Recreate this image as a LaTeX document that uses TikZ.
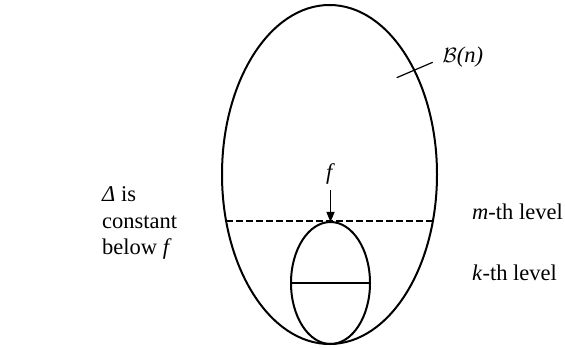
\documentclass[tikz,border=0pt]{standalone}
\usepackage{fontspec}
\setmainfont{Liberation Serif}
\usetikzlibrary{arrows.meta,positioning,shapes.geometric}

\begin{document}
\begin{tikzpicture}[x=1pt, y=1pt,
  region/.style={ellipse, draw=black, line width=2pt, inner sep=0pt, outer sep=0pt},
  lab/.style={inner sep=2pt, font=\fontsize{22.5}{26.5}\selectfont},
  level/.style={draw, line width=2pt, dash pattern=on 6.5pt off 3.5pt},
  line/.style={draw, line width=1.2pt, -{Triangle[length=10pt, width=8pt]}}]
  \useasboundingbox (0,0) rectangle (565,348);

  % Ball B(n) and the part below f
  \node [region, minimum width=215pt, minimum height=339pt] (ball) at (329.5,173.5) {};
  \node [region, minimum width=79pt, minimum height=122pt] (sub) at (330.5,65) {};

  % Levels
  \path [level] (ball.204.71) -- (ball.-24.71);
  \draw [line width=2pt] (sub.west) -- (sub.east);

  % Labels
  \node [lab, above=36pt of sub] (fnode) {\textit{f}};
  \path [line, shorten <=4pt] (fnode) -- (sub.north);

  \node [lab, anchor=west] (bn) at (440.5,291.3) {$\mathcal{B}$\textit{(n)}};
  \coordinate (tickA) at (396.7,270.3);
  \coordinate (tickB) at (432.7,285.7);
  \draw [line width=1.2pt] (tickA) -- (tickB);

  \node [lab, anchor=west] (mlev) at (470,136) {\textit{m}-th level};
  \node [lab, anchor=west] (klev) at (470,75) {\textit{k}-th level};
  \node [lab, anchor=west, align=left] (delta) at (100,125) {\textit{Δ} is\\constant\\below \textit{f}};
\end{tikzpicture}
\end{document}
